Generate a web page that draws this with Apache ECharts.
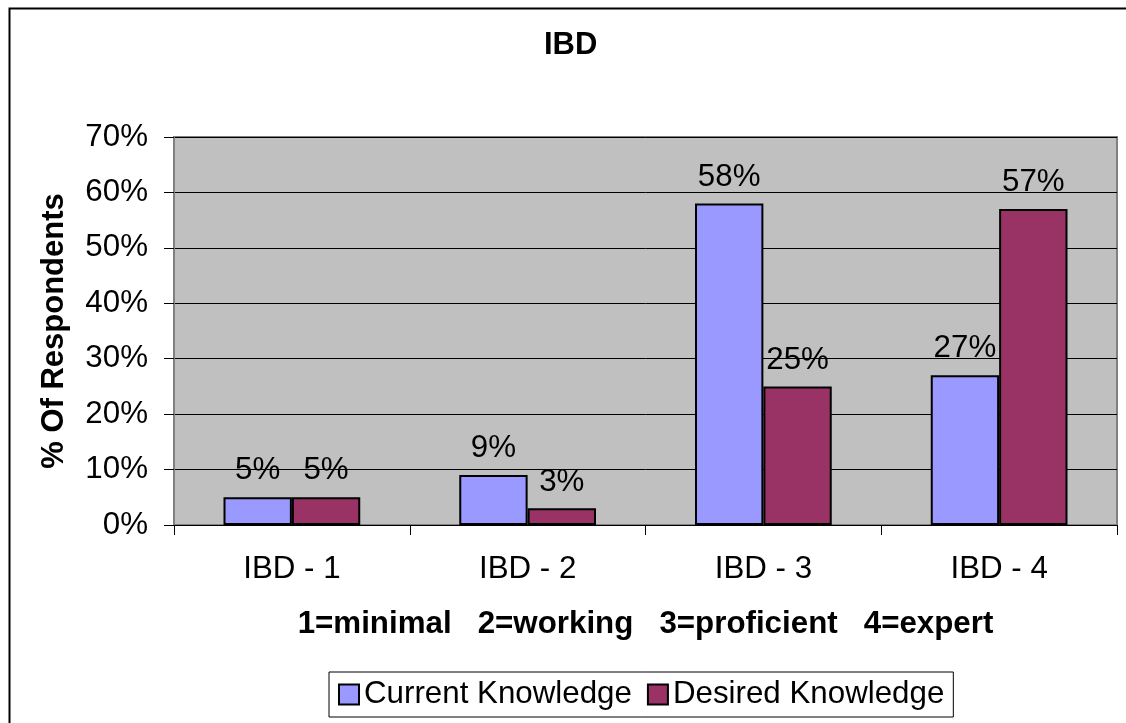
<!DOCTYPE html>
<html>
<head>
<meta charset="utf-8">
<script src="https://cdn.jsdelivr.net/npm/echarts@6/dist/echarts.min.js"></script>
<style>
html,body{margin:0;padding:0;background:#fff;}
#c{width:1126px;height:723px;}
</style>
</head>
<body>
<div id="c"></div>
<script>
const categories = ['IBD - 1', 'IBD - 2', 'IBD - 3', 'IBD - 4'];
const currentKnowledge = [5, 9, 58, 27];
const desiredKnowledge = [5, 3, 25, 57];
const seriesNames = ['Current Knowledge', 'Desired Knowledge'];
const yMin = 0, yMax = 70, yStep = 10;
const titleText = 'IBD';
const yAxisName = '% Of Respondents';
const xAxisName = '1=minimal   2=working   3=proficient   4=expert';

const FONT = "'Liberation Sans', Arial, sans-serif";
const FS = 31.3;
const chart = echarts.init(document.getElementById('c'), null, {renderer: 'canvas'});

const labelCfg = {
  show: true, position: 'top', distance: 11,
  fontSize: FS, color: '#000', fontFamily: FONT,
  formatter: p => p.value + '%'
};

chart.setOption({
  backgroundColor: '#fff',
  animation: false,
  graphic: [{
    type: 'rect', left: 7, top: 6, silent: true, z: -1,
    shape: {x: 0, y: 0, width: 1200, height: 800},
    style: {fill: 'none', stroke: '#000', lineWidth: 2}
  }],
  title: {
    text: titleText, left: 544, top: 30, padding: 0,
    textStyle: {fontSize: 31, fontWeight: 'bold', color: '#000', fontFamily: FONT}
  },
  grid: {
    left: 174, right: 9, top: 137, bottom: 198,
    show: true, backgroundColor: '#C0C0C0', borderColor: '#808080', borderWidth: 2
  },
  legend: {
    data: seriesNames, left: 329, top: 672,
    orient: 'horizontal', icon: 'rect',
    itemWidth: 20, itemHeight: 20, itemGap: 15,
    padding: [7, 9, 7, 9],
    borderColor: '#000', borderWidth: 1, backgroundColor: '#fff',
    itemStyle: {borderColor: '#000', borderWidth: 2},
    textStyle: {fontSize: FS, color: '#000', fontFamily: FONT}
  },
  xAxis: {
    type: 'category', data: categories,
    name: xAxisName, nameLocation: 'middle', nameGap: 84,
    nameTextStyle: {fontSize: FS, fontWeight: 'bold', color: '#000', fontFamily: FONT},
    axisLine: {show: true, lineStyle: {color: '#000', width: 1}},
    axisTick: {show: true, length: 10, alignWithLabel: false, lineStyle: {color: '#000'}},
    axisLabel: {fontSize: FS, color: '#000', fontFamily: FONT, margin: 29},
    splitLine: {show: false}
  },
  yAxis: {
    type: 'value', min: yMin, max: yMax, interval: yStep,
    name: yAxisName, nameLocation: 'middle', nameRotate: 90, nameGap: 104,
    nameTextStyle: {fontSize: 31, fontWeight: 'bold', color: '#000', fontFamily: FONT},
    axisLine: {show: true, lineStyle: {color: '#808080', width: 2}},
    axisTick: {show: true, length: 10, lineStyle: {color: '#000'}},
    axisLabel: {fontSize: FS, color: '#000', fontFamily: FONT, margin: 26, formatter: '{value}%'},
    splitLine: {show: true, lineStyle: {color: '#000', width: 1}}
  },
  series: [
    {
      name: seriesNames[0], type: 'bar', data: currentKnowledge,
      barGap: '0%', barCategoryGap: '42%',
      itemStyle: {color: '#9999FF', borderColor: '#000', borderWidth: 2},
      label: labelCfg
    },
    {
      name: seriesNames[1], type: 'bar', data: desiredKnowledge,
      barGap: '0%', barCategoryGap: '42%',
      itemStyle: {color: '#993366', borderColor: '#000', borderWidth: 2},
      label: labelCfg
    }
  ]
});
</script>
</body>
</html>
